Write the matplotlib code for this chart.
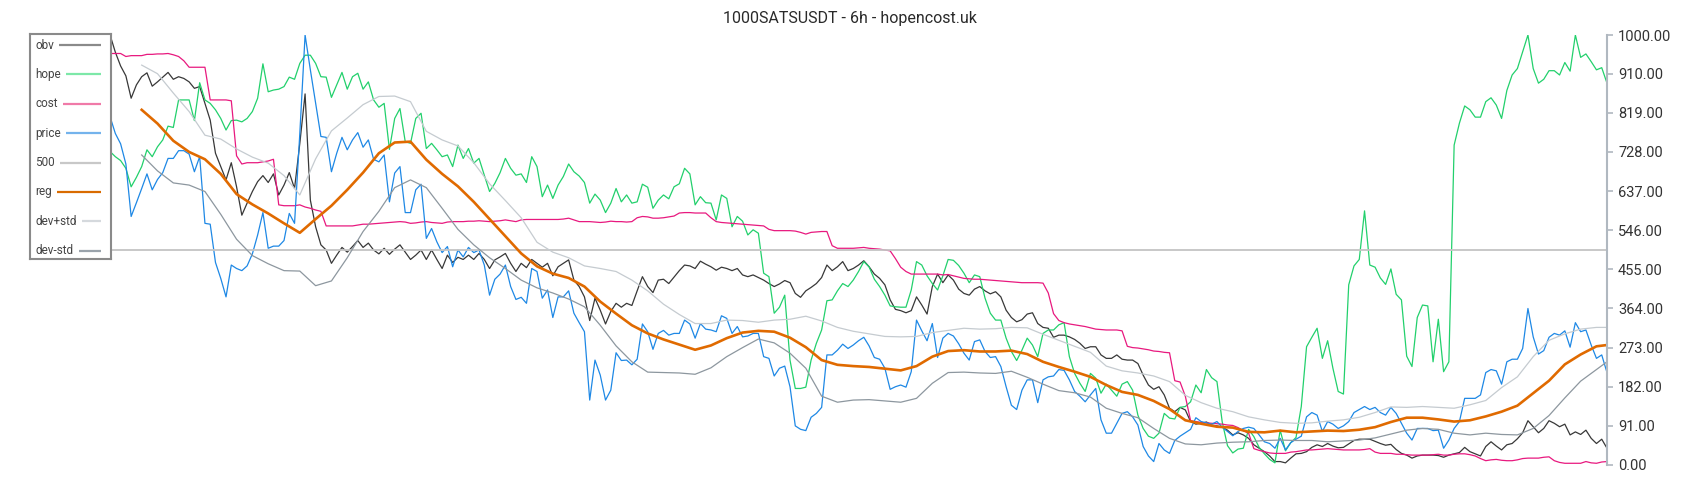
import numpy as np
import matplotlib.pyplot as plt

plt.rcParams['font.family'] = ['Roboto', 'DejaVu Sans']

# 标题与图例
title = '1000SATSUSDT - 6h - hopencost.uk'
labels = ['obv', 'hope', 'cost', 'price', '500', 'reg', 'dev+std', 'dev-std']
y_ticks = [0, 91, 182, 273, 364, 455, 546, 637, 728, 819, 910, 1000]
level_500 = 500

# 原始序列 (第15根K线开始可见, 前面被图例遮住)
first_t = 15
obv = [
    1000, 960, 928, 905, 853, 884, 903, 912, 881, 891,
    902, 913, 897, 903, 899, 891, 876, 880, 841, 802,
    725, 694, 663, 703, 647, 581, 609, 636, 659, 673,
    657, 677, 628, 651, 680, 643, 748, 863, 616, 554,
    512, 500, 469, 488, 506, 495, 508, 522, 506, 516,
    500, 491, 504, 490, 502, 512, 495, 478, 488, 500,
    478, 500, 478, 457, 488, 471, 483, 478, 488, 478,
    492, 478, 457, 477, 484, 492, 469, 450, 469, 459,
    478, 469, 460, 469, 440, 461, 469, 477, 430, 415,
    391, 336, 388, 360, 328, 357, 376, 367, 376, 371,
    405, 438, 415, 401, 430, 432, 422, 437, 452, 465,
    463, 457, 474, 467, 461, 453, 460, 457, 452, 457,
    442, 438, 442, 436, 430, 422, 415, 421, 429, 424,
    399, 390, 405, 413, 422, 436, 465, 452, 461, 473,
    452, 457, 465, 475, 461, 444, 434, 419, 384, 362,
    359, 354, 359, 391, 372, 351, 415, 444, 424, 442,
    430, 409, 399, 395, 409, 415, 405, 398, 403, 391,
    360, 343, 333, 338, 351, 354, 329, 320, 318, 297,
    302, 302, 298, 292, 283, 271, 275, 275, 256, 248,
    248, 256, 246, 244, 244, 236, 209, 186, 176, 182,
    163, 132, 124, 134, 128, 101, 95, 97, 100, 93,
    91, 88, 81, 70, 75, 70, 62, 47, 39, 31,
    21, 8, 8, 5, 16, 26, 27, 31, 41, 47,
    43, 50, 44, 40, 41, 49, 57, 60, 60, 60,
    55, 50, 46, 48, 36, 27, 23, 16, 21, 23,
    23, 23, 22, 18, 23, 26, 29, 41, 31, 26,
    21, 43, 54, 44, 35, 47, 50, 61, 75, 103,
    89, 75, 85, 103, 97, 89, 95, 70, 77, 71,
    81, 62, 50, 60, 39,
]
hope = [
    729, 717, 708, 690, 647, 669, 694, 733, 717, 740,
    756, 788, 785, 849, 849, 849, 801, 889, 849, 841,
    826, 806, 779, 801, 802, 798, 806, 822, 853, 933,
    868, 872, 874, 880, 902, 897, 934, 953, 953, 934,
    903, 902, 855, 884, 913, 874, 903, 911, 874, 891,
    849, 832, 841, 734, 806, 829, 752, 748, 806, 818,
    736, 748, 733, 717, 721, 694, 744, 713, 736, 702,
    713, 674, 636, 655, 680, 713, 690, 674, 677, 657,
    717, 694, 624, 651, 620, 651, 671, 700, 682, 672,
    657, 609, 630, 616, 587, 609, 643, 612, 628, 609,
    612, 653, 646, 597, 616, 628, 619, 647, 654, 690,
    677, 605, 624, 610, 609, 570, 628, 620, 554, 578,
    567, 535, 547, 539, 446, 438, 353, 367, 395, 244,
    178, 178, 181, 244, 283, 314, 382, 384, 405, 422,
    415, 430, 450, 473, 461, 432, 415, 395, 370, 368,
    367, 367, 407, 473, 465, 440, 422, 407, 440, 478,
    476, 464, 446, 424, 442, 438, 388, 353, 337, 337,
    295, 264, 243, 267, 295, 279, 252, 306, 314, 314,
    326, 331, 252, 213, 190, 171, 213, 202, 167, 188,
    174, 160, 188, 194, 174, 116, 85, 67, 62, 74,
    120, 109, 107, 134, 136, 147, 186, 168, 222, 203,
    194, 100, 45, 28, 37, 39, 83, 66, 41, 26,
    13, 5, 81, 33, 52, 64, 136, 275, 297, 318,
    248, 289, 225, 171, 165, 419, 463, 478, 591, 465,
    460, 435, 420, 456, 397, 384, 253, 229, 343, 372,
    370, 240, 339, 217, 240, 744, 795, 835, 826, 809,
    809, 845, 854, 837, 806, 871, 907, 922, 961, 1000,
    922, 888, 897, 917, 917, 907, 936, 916, 1000, 948,
    956, 938, 919, 924, 888,
]
cost = [
    957, 957, 957, 950, 952, 952, 952, 955, 955, 956,
    956, 957, 954, 950, 940, 925, 925, 925, 925, 849,
    849, 849, 849, 847, 719, 700, 703, 703, 703, 705,
    707, 711, 605, 603, 603, 603, 605, 600, 597, 593,
    590, 556, 556, 556, 556, 556, 556, 558, 560, 560,
    561, 562, 563, 564, 565, 566, 565, 562, 563, 565,
    566, 564, 563, 562, 565, 566, 566, 566, 567, 567,
    568, 567, 566, 567, 568, 570, 568, 566, 570, 571,
    571, 571, 571, 571, 571, 571, 572, 574, 570, 566,
    566, 566, 565, 564, 565, 567, 566, 566, 565, 566,
    575, 578, 577, 574, 574, 575, 577, 579, 586, 587,
    587, 586, 586, 586, 575, 566, 564, 563, 562, 561,
    560, 559, 558, 557, 556, 548, 545, 545, 545, 545,
    544, 541, 537, 541, 542, 543, 543, 510, 504, 504,
    504, 504, 505, 506, 504, 503, 502, 500, 498, 480,
    460, 450, 444, 444, 444, 444, 444, 444, 442, 443,
    440, 437, 434, 433, 432, 432, 431, 430, 429, 428,
    427, 426, 425, 424, 424, 424, 424, 423, 400, 352,
    336, 331, 328, 326, 324, 322, 319, 316, 315, 314,
    314, 314, 312, 276, 273, 272, 270, 268, 265, 264,
    262, 261, 196, 193, 160, 103, 101, 99, 98, 97,
    96, 95, 93, 92, 87, 80, 74, 38, 34, 31,
    28, 27, 27, 27, 30, 31, 33, 35, 35, 36,
    37, 38, 37, 36, 35, 35, 35, 35, 36, 38,
    30, 27, 27, 27, 25, 25, 24, 23, 23, 23,
    23, 24, 25, 23, 23, 25, 26, 26, 24, 21,
    15, 10, 12, 13, 11, 10, 10, 12, 15, 16,
    16, 16, 18, 19, 10, 6, 4, 4, 4, 4,
    8, 5, 4, 7, 8,
]
price = [
    810, 771, 747, 700, 578, 610, 643, 677, 640, 664,
    680, 713, 713, 731, 731, 723, 682, 717, 562, 560,
    471, 434, 391, 465, 457, 452, 463, 491, 535, 587,
    504, 509, 509, 522, 585, 562, 771, 1000, 919, 841,
    764, 762, 682, 725, 762, 733, 756, 773, 739, 756,
    711, 705, 721, 612, 679, 694, 587, 587, 640, 653,
    527, 550, 519, 494, 508, 461, 500, 484, 506, 494,
    500, 465, 395, 432, 444, 465, 415, 385, 390, 376,
    457, 450, 388, 407, 343, 391, 391, 405, 353, 331,
    310, 151, 244, 209, 151, 174, 261, 243, 244, 233,
    246, 328, 310, 269, 306, 313, 302, 306, 306, 337,
    328, 295, 329, 316, 314, 310, 347, 341, 306, 322,
    298, 300, 306, 306, 252, 248, 207, 225, 230, 182,
    91, 83, 80, 111, 120, 134, 256, 256, 267, 281,
    271, 279, 289, 297, 277, 250, 246, 225, 176, 182,
    186, 181, 217, 337, 312, 289, 329, 250, 295, 306,
    300, 282, 260, 244, 287, 291, 264, 250, 252, 229,
    182, 139, 129, 174, 198, 198, 145, 198, 205, 207,
    222, 220, 198, 171, 160, 147, 163, 178, 105, 74,
    74, 97, 120, 124, 112, 93, 43, 21, 8, 50,
    35, 27, 57, 67, 75, 83, 110, 101, 98, 95,
    101, 88, 78, 68, 78, 85, 88, 85, 70, 54,
    50, 39, 62, 35, 52, 60, 67, 112, 122, 116,
    78, 101, 95, 85, 91, 101, 122, 129, 136, 129,
    134, 122, 116, 134, 120, 97, 74, 58, 85, 85,
    85, 80, 81, 39, 58, 85, 101, 155, 155, 155,
    163, 215, 222, 219, 188, 240, 246, 246, 271, 364,
    298, 258, 266, 297, 306, 302, 312, 274, 331, 310,
    314, 279, 248, 256, 215,
]

# 平滑序列 (第21根开始, 每3根取一点, 最后一根补上)
t_smooth = list(range(21, 298, 3)) + [299]
reg = [
    826, 794, 754, 728, 711, 677, 630, 606, 585, 562,
    540, 572, 603, 640, 680, 725, 750, 752, 710, 677,
    648, 612, 572, 532, 492, 462, 445, 435, 415, 380,
    352, 325, 306, 292, 280, 268, 278, 295, 308, 312,
    310, 296, 274, 244, 233, 230, 228, 224, 220, 230,
    252, 265, 267, 264, 264, 266, 258, 240, 228, 217,
    205, 186, 170, 163, 149, 130, 104, 96, 89, 87,
    77, 76, 80, 76, 78, 80, 79, 82, 88, 100,
    110, 110, 106, 101, 104, 113, 124, 138, 167, 196,
    234, 257, 276, 279,
]
dev_plus = [
    930, 910, 865, 822, 767, 758, 735, 716, 702, 673,
    628, 712, 777, 807, 838, 857, 858, 845, 776, 756,
    742, 703, 654, 615, 575, 518, 495, 482, 463, 457,
    450, 430, 405, 374, 350, 329, 329, 337, 336, 332,
    337, 339, 346, 335, 320, 311, 305, 299, 298, 299,
    308, 313, 318, 316, 317, 320, 319, 304, 290, 276,
    262, 230, 219, 214, 207, 194, 162, 145, 132, 124,
    112, 105, 99, 97, 98, 102, 105, 111, 122, 135,
    134, 136, 134, 132, 140, 150, 180, 205, 252, 290,
    305, 316, 320, 320,
]
dev_minus = [
    721, 684, 656, 651, 636, 583, 525, 487, 468, 452,
    451, 417, 428, 482, 543, 590, 645, 663, 645, 597,
    548, 512, 482, 457, 430, 412, 400, 386, 368, 325,
    277, 240, 216, 215, 214, 211, 226, 252, 273, 293,
    284, 260, 225, 160, 146, 151, 152, 149, 146, 155,
    190, 215, 216, 214, 213, 218, 204, 188, 173, 168,
    158, 132, 120, 110, 85, 62, 49, 47, 51, 53,
    54, 57, 58, 57, 57, 54, 56, 58, 63, 72,
    81, 85, 83, 74, 70, 74, 71, 70, 85, 115,
    156, 195, 222, 240,
]

# 颜色
line_colors = {
    'obv': '#383838', 'hope': '#22d06c', 'cost': '#e8197f', 'price': '#1e88e5',
    '500': '#c4c4c4', 'reg': '#e06a00', 'dev+std': '#c5cbd0', 'dev-std': '#8d979f',
}
legend_colors = {
    'obv': '#8a8a8a', 'hope': '#7de8a8', 'cost': '#f07aa8', 'price': '#74b3ec',
    '500': '#c8c8c8', 'reg': '#d96b00', 'dev+std': '#d5d9dd', 'dev-std': '#9aa3ab',
}

fig = plt.figure(figsize=(17, 5), dpi=100)
ax = fig.add_axes([31 / 1700, 35 / 500, 1576 / 1700, 430 / 500])

t_main = np.arange(first_t, first_t + len(obv))
ax.plot(t_main, obv, color=line_colors['obv'], lw=0.9)
ax.plot(t_main, hope, color=line_colors['hope'], lw=0.9)
ax.plot(t_main, cost, color=line_colors['cost'], lw=0.9)
ax.plot(t_main, price, color=line_colors['price'], lw=0.9)
ax.axhline(level_500, color=line_colors['500'], lw=1.3)
ax.plot(t_smooth, reg, color=line_colors['reg'], lw=1.9)
ax.plot(t_smooth, dev_plus, color=line_colors['dev+std'], lw=0.9)
ax.plot(t_smooth, dev_minus, color=line_colors['dev-std'], lw=0.9)

ax.set_xlim(0, 299)
ax.set_ylim(0, 1000)
ax.set_xticks([])
ax.yaxis.tick_right()
ax.set_yticks(y_ticks)
ax.yaxis.set_major_formatter('{x:.2f}')
ax.tick_params(axis='y', length=4, width=1.2, color='#b0b8c0',
               labelsize=10.5, labelcolor='#333333', pad=4)
for side in ['top', 'left', 'bottom']:
    ax.spines[side].set_visible(False)
ax.spines['right'].set_color('#b0b8c0')
ax.spines['right'].set_linewidth(1.5)

fig.text(0.5, 1 - 19 / 500, title, ha='center', va='center',
         fontsize=11.5, color='#2a2a2a')

# 手工图例: 文字左对齐, 线段右对齐
leg = fig.add_axes([30 / 1700, 241 / 500, 81 / 1700, 225 / 500], zorder=5)
leg.set_facecolor('white')
leg.set_xlim(0, 81)
leg.set_ylim(225, 0)
leg.set_xticks([])
leg.set_yticks([])
for s in leg.spines.values():
    s.set_color('#8a8a8a')
    s.set_linewidth(1.5)

texts = []
for i, lab in enumerate(labels):
    y = 11 + 29.4 * i
    texts.append(leg.text(5, y, lab, va='center', ha='left',
                          fontsize=8.5, color='#444444'))

fig.canvas.draw()
inv = leg.transData.inverted()
for i, (lab, txt) in enumerate(zip(labels, texts)):
    y = 11 + 29.4 * i
    bb = txt.get_window_extent()
    x_end = inv.transform((bb.x1, bb.y0))[0]
    leg.plot([x_end + 5.5, 70.7], [y, y], color=legend_colors[lab],
             lw=1.6, solid_capstyle='butt')

fig.savefig('out.png', dpi=100)
